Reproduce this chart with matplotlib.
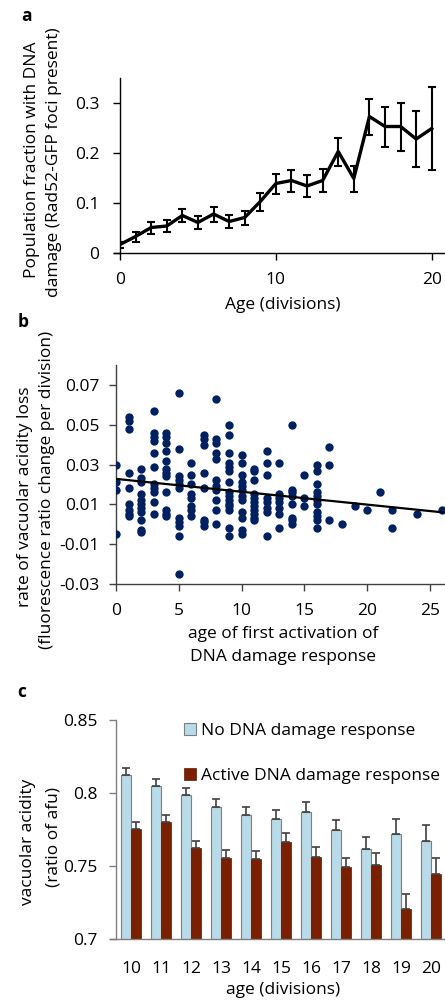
import numpy as np
import matplotlib
matplotlib.use("Agg")
import matplotlib.pyplot as plt

plt.rcParams['font.family'] = ['Open Sans', 'DejaVu Sans']
FS = 12.5

# ---------------- data ----------------
# panel a
age_a = list(range(0, 21))
frac_a = [0.017, 0.033, 0.051, 0.054, 0.075, 0.061, 0.078, 0.063, 0.071, 0.103,
          0.139, 0.145, 0.134, 0.145, 0.203, 0.149, 0.273, 0.253, 0.253, 0.228, 0.249]
err_a = [0.006, 0.010, 0.012, 0.012, 0.013, 0.013, 0.015, 0.013, 0.014, 0.018,
         0.020, 0.022, 0.022, 0.023, 0.028, 0.026, 0.036, 0.040, 0.048, 0.056, 0.083]

# panel b
scatter_age = ([0]*4 + [1]*9 + [2]*11 + [3]*11 + [4]*12 + [5]*11 + [6]*8 + [7]*8 +
               [8]*11 + [9]*15 + [10]*12 + [11]*11 + [12]*8 + [13]*7 + [14]*8 +
               [15]*3 + [16]*11 + [17]*3 + [18] + [19] + [20] + [21] + [22]*2 + [24] + [26])
scatter_rate = [
    0.030, 0.021, 0.017, -0.005,
    0.054, 0.052, 0.048, 0.026, 0.018, 0.010, 0.007, 0.005, 0.004,
    0.028, 0.023, 0.021, 0.015, 0.012, 0.010, 0.008, 0.006, 0.002, -0.003, -0.004,
    0.057, 0.046, 0.044, 0.042, 0.036, 0.029, 0.020, 0.018, 0.016, 0.011, 0.005,
    0.046, 0.044, 0.041, 0.037, 0.032, 0.028, 0.026, 0.024, 0.016, 0.007, 0.005, 0.004,
    0.066, 0.038, 0.024, 0.022, 0.020, 0.018, 0.003, 0.001, -0.001, -0.006, -0.025,
    0.031, 0.025, 0.020, 0.015, 0.013, 0.009, 0.007, 0.004,
    0.045, 0.043, 0.040, 0.026, 0.018, 0.002, 0.001, -0.001,
    0.063, 0.043, 0.041, 0.036, 0.033, 0.022, 0.019, 0.017, 0.012, 0.007, 0.000,
    0.050, 0.045, 0.036, 0.031, 0.029, 0.027, 0.021, 0.016, 0.014, 0.012, 0.010, 0.009, 0.007, -0.002, -0.006,
    0.035, 0.031, 0.025, 0.021, 0.019, 0.017, 0.014, 0.012, 0.006, 0.003, -0.003, -0.005,
    0.028, 0.027, 0.022, 0.015, 0.013, 0.011, 0.009, 0.007, 0.005, 0.003, 0.002,
    0.037, 0.031, 0.025, 0.013, 0.011, 0.008, 0.006, -0.006,
    0.031, 0.015, 0.013, 0.011, 0.008, 0.005, -0.002,
    0.050, 0.017, 0.016, 0.014, 0.010, 0.003, 0.002, 0.000,
    0.025, 0.013, 0.009,
    0.030, 0.027, 0.020, 0.016, 0.014, 0.012, 0.010, 0.006, 0.004, 0.002, -0.002,
    0.039, 0.030, 0.002,
    0.000,
    0.009,
    0.007,
    0.016,
    0.007, -0.002,
    0.005,
    0.007,
]
trend_x = [0, 26]
trend_y = [0.0228, 0.0060]

# panel c
ages_c = ['10', '11', '12', '13', '14', '15', '16', '17', '18', '19', '20']
no_ddr = [0.8124, 0.8049, 0.7987, 0.7907, 0.7850, 0.7821, 0.7873, 0.7748, 0.7615, 0.7716, 0.7668]
no_ddr_err = [0.0050, 0.0048, 0.0046, 0.0055, 0.0053, 0.0064, 0.0062, 0.0064, 0.0087, 0.0105, 0.0110]
active_ddr = [0.7754, 0.7798, 0.7624, 0.7558, 0.7549, 0.7663, 0.7565, 0.7490, 0.7504, 0.7205, 0.7447]
active_ddr_err = [0.0048, 0.0048, 0.0046, 0.0055, 0.0055, 0.0064, 0.0064, 0.0064, 0.0084, 0.0100, 0.0107]

# ---------------- figure ----------------
W, H = 445, 1002
fig = plt.figure(figsize=(W/100, H/100), dpi=100)

def axes_px(l, t, r, b):
    return fig.add_axes([l/W, 1 - b/H, (r - l)/W, (b - t)/H])

def ftext(xp, yp, s, **kw):
    return fig.text(xp/W, 1 - yp/H, s, fontsize=FS, ha='center', va='center', **kw)

def style(ax, color, ypad, xpad):
    for s in ['top', 'right']:
        ax.spines[s].set_visible(False)
    for s in ['left', 'bottom']:
        ax.spines[s].set_color(color)
        ax.spines[s].set_linewidth(1.0)
    ax.tick_params(axis='both', colors=color, labelcolor='black', labelsize=FS,
                   length=5, width=1.0, direction='out')
    ax.tick_params(axis='y', pad=ypad)
    ax.tick_params(axis='x', pad=xpad)

# ----- panel a -----
axa = axes_px(120, 78, 445, 253)
axa.errorbar(age_a, frac_a, yerr=err_a, color='black', lw=2.4, elinewidth=1.5,
             capsize=3, capthick=1.5, zorder=3)
axa.set_xlim(0, 20.85)
axa.set_ylim(0, 0.35)
axa.set_xticks([0, 10, 20])
axa.set_yticks([0, 0.1, 0.2, 0.3])
axa.set_yticklabels(['0', '0.1', '0.2', '0.3'])
style(axa, 'black', 10, 9)
axa.spines['bottom'].set_bounds(-0.4, 20.85)
ftext(283, 305, 'Age (divisions)')
ftext(32, 160, 'Population fraction with DNA', rotation=90)
ftext(54, 162, 'damage (Rad52-GFP foci present)', rotation=90)
ftext(26, 16, 'a', fontweight='bold')

# ----- panel b -----
axb = axes_px(116, 365, 445, 584)
axb.scatter(scatter_age, scatter_rate, s=36, color='#002060', zorder=3, linewidths=0)
axb.plot(trend_x, trend_y, color='black', lw=1.6, zorder=4)
axb.set_xlim(0, 26.2)
axb.set_ylim(-0.03, 0.08)
axb.set_xticks([0, 5, 10, 15, 20, 25])
axb.set_yticks([-0.03, -0.01, 0.01, 0.03, 0.05, 0.07])
axb.set_yticklabels(['-0.03', '-0.01', '0.01', '0.03', '0.05', '0.07'])
style(axb, '#404040', 7, 9)
ftext(283, 634, 'age of first activation of')
ftext(283, 657, 'DNA damage response')
ftext(25, 497, 'rate of vacuolar acidity loss', rotation=90)
ftext(47, 490, '(fluorescence ratio change per division)', rotation=90)
ftext(23, 322, 'b', fontweight='bold')

# ----- panel c -----
axc = axes_px(116, 720, 446, 939)
x = np.arange(len(ages_c))
bw = 0.345
axc.bar(x - bw/2, no_ddr, width=bw, color='#b7dbe9', edgecolor='#7f7f7f', lw=0.8,
        yerr=[np.zeros(len(x)), no_ddr_err], error_kw=dict(ecolor='#404040', elinewidth=1.2,
        capsize=3, capthick=1.2), label='No DNA damage response', zorder=2)
axc.bar(x + bw/2, active_ddr, width=bw, color='#7a2000', edgecolor='#5a1800', lw=0.5,
        yerr=[np.zeros(len(x)), active_ddr_err], error_kw=dict(ecolor='#404040', elinewidth=1.2,
        capsize=3, capthick=1.2), label='Active DNA damage response', zorder=2)
axc.set_xlim(-0.5, 10.5)
axc.set_ylim(0.7, 0.85)
axc.set_yticks([0.7, 0.75, 0.8, 0.85])
axc.set_yticklabels(['0.7', '0.75', '0.8', '0.85'])
axc.set_xticks(x)
axc.set_xticklabels(ages_c)
style(axc, '#7f7f7f', 8, 16)
axc.tick_params(axis='x', length=0)
axc.spines['bottom'].set_bounds(-0.7, 10.5)
ftext(283, 990, 'age (divisions)')
ftext(28, 842, 'vacuolar acidity', rotation=90)
ftext(53, 837, '(ratio of afu)', rotation=90)
ftext(22, 692, 'c', fontweight='bold')
leg = axc.legend(loc='upper left', bbox_to_anchor=(184/W, 1 - 723/H), bbox_transform=fig.transFigure,
                 frameon=False, fontsize=FS, handlelength=0.7, handleheight=0.7,
                 handletextpad=0.3, labelspacing=1.65, borderpad=0, borderaxespad=0)

fig.savefig('out.png', dpi=100)
